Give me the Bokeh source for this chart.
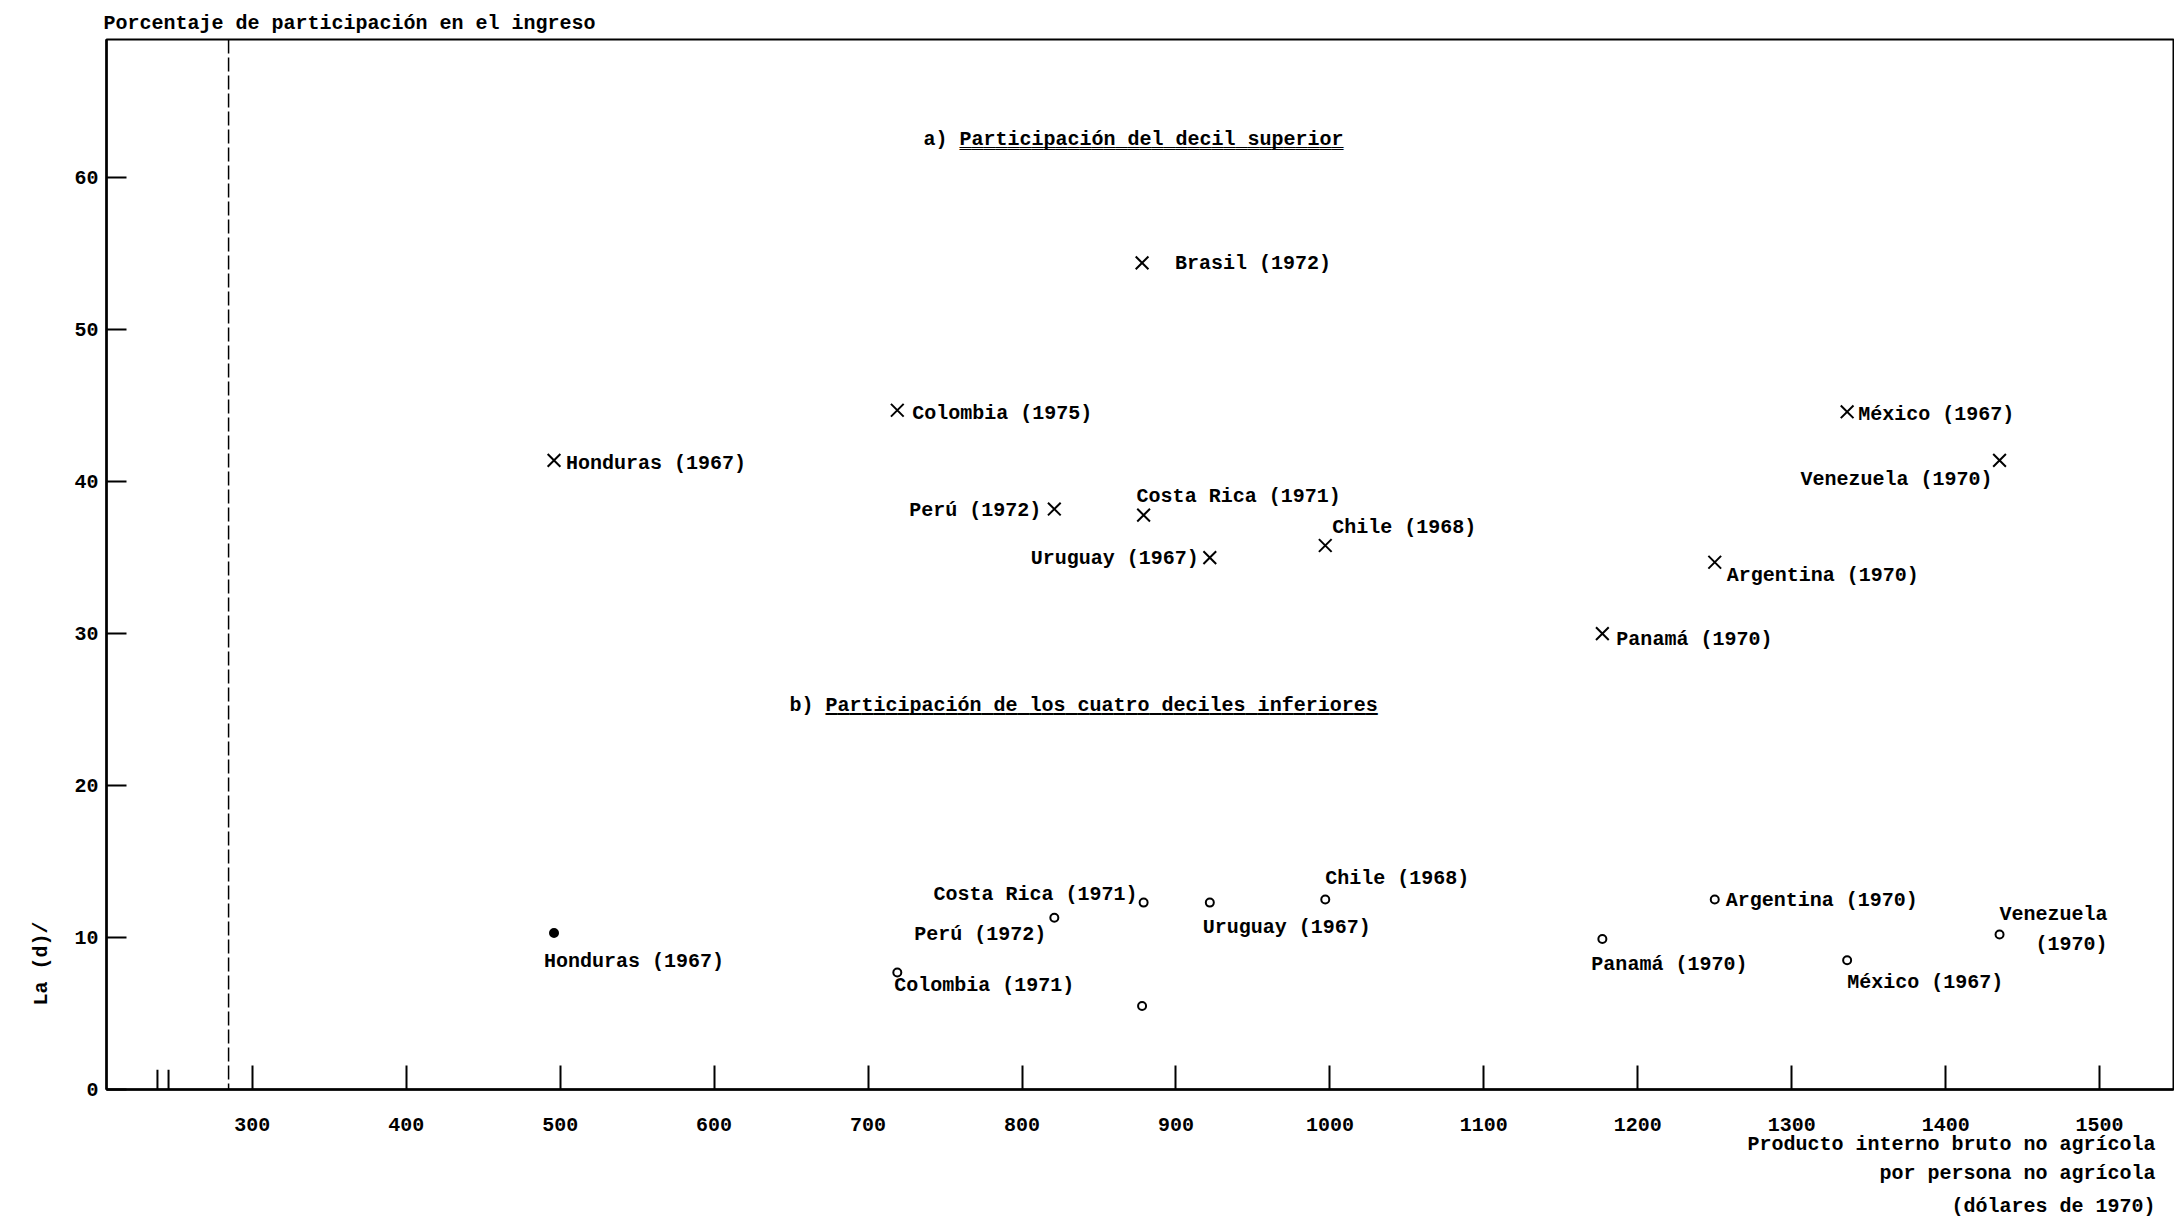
from bokeh.plotting import figure
from bokeh.models import ColumnDataSource, FixedTicker, Span, Title
from bokeh.core.properties import value
from bokeh.embed import file_html
from bokeh.resources import INLINE

# ---------------- data ----------------
countries = ["Honduras", "Colombia", "Perú", "Brasil", "Costa Rica", "Uruguay",
             "Chile", "Panamá", "Argentina", "México", "Venezuela"]
gdp_per_person = [496, 719, 821, 878, 879, 922, 997, 1177, 1250, 1336, 1435]
top_decile_share = [41.4, 44.7, 38.2, 54.4, 37.8, 35.0, 35.8, 30.0, 34.7, 44.6, 41.4]
top_years = ["1967", "1975", "1972", "1972", "1971", "1967", "1968", "1970", "1970", "1967", "1970"]
bottom_four_share = [10.3, 7.7, 11.3, 5.5, 12.3, 12.3, 12.5, 9.9, 12.5, 8.5, 10.2]
bottom_years = ["1967", "1971", "1972", "", "1971", "1967", "1968", "1970", "1970", "1967", "1970"]

x_ticks = [300, 400, 500, 600, 700, 800, 900, 1000, 1100, 1200, 1300, 1400, 1500]
y_ticks = [0, 10, 20, 30, 40, 50, 60]

title_top = "a) Participación del decil superior"
title_bottom = "b) Participación de los cuatro deciles inferiores"
y_title = "Porcentaje de participación en el ingreso"
y_side_label = "La (d)/"
x_label_lines = ["Producto interno bruto no agrícola", "por persona no agrícola", "(dólares de 1970)"]

# ---------------- label styling (pixel offsets) ----------------
top_dx = [12, 15, -13, 33, -7, -11, 7, 14, 12, 11, -7]
top_dy = [3, 3, 1, 1, -19, 1, -18, 6, 13, 3, 19]
top_align = ["left", "left", "right", "left", "left", "right", "left", "left", "left", "left", "right"]
bot_dx = [-10, -3, -8, 0, -6, -7, 0, -11, 11, 0, 108]
bot_dy = [29, 13, 17, 0, -8, 25, -21, 25, 1, 22, -5]
bot_align = ["left", "left", "right", "left", "right", "left", "left", "left", "left", "left", "right"]
x_label_standoffs = [-6, 15, 0]

FONT = "Liberation Mono"
FS = "20px"

p = figure(width=2174, height=1218, output_backend="svg", toolbar_location=None,
           x_range=(205.3, 1548), y_range=(0, 69.1))
p.min_border_left = 106
p.min_border_right = 1
p.min_border_top = 39
p.min_border_bottom = 129
p.background_fill_color = "white"
p.border_fill_color = "white"
p.outline_line_color = "black"
p.outline_line_width = 2
p.grid.visible = False

# top-left axis title
p.title.text = y_title
p.title.align = "left"
p.title.offset = -3
p.title.text_font = FONT
p.title.text_font_size = FS
p.title.text_font_style = "bold"
p.title.text_color = "black"
p.title.standoff = 10

for ax in (p.xaxis[0], p.yaxis[0]):
    ax.axis_line_color = "black"
    ax.axis_line_width = 2.5
    ax.major_tick_line_color = "black"
    ax.major_tick_line_width = 2
    ax.major_tick_out = 0
    ax.minor_tick_line_color = None
    ax.major_label_text_font = FONT
    ax.major_label_text_font_size = FS
    ax.major_label_text_font_style = "bold"
    ax.major_label_text_color = "black"

p.xaxis.ticker = FixedTicker(ticks=x_ticks)
p.yaxis.ticker = FixedTicker(ticks=y_ticks)
p.xaxis.major_tick_in = 24
p.yaxis.major_tick_in = 20
p.xaxis.major_label_standoff = 28
p.yaxis.major_label_standoff = 8

# rotated side label on the left
p.add_layout(Title(text=y_side_label, align="left", offset=84, standoff=37,
                   text_font=FONT, text_font_size=FS, text_font_style="bold",
                   text_color="black"), "left")

# x-axis title lines, bottom right
for line, so in zip(x_label_lines, x_label_standoffs):
    p.add_layout(Title(text=line, align="right", offset=18, standoff=so,
                       text_font=FONT, text_font_size=FS, text_font_style="bold",
                       text_color="black"), "below")

# vertical dashed reference line and axis break marks
p.add_layout(Span(location=284.6, dimension="height", line_color="black",
                  line_width=1.5, line_dash="14 4"))
axis_break = [238.4, 245.6]
p.segment(x0=axis_break, y0=[0, 0], x1=axis_break, y1=[1.3, 1.3],
          line_color="black", line_width=2)

# markers
p.scatter(gdp_per_person, top_decile_share, marker="x", size=18,
          line_width=2, line_color="black")
fills = ["black" if c == "Honduras" else "white" for c in countries]
p.scatter(gdp_per_person, bottom_four_share, marker="circle", size=8,
          line_width=2, line_color="black", fill_color=fills)

# point labels
def label_rows(shares, years, dxs, dys, aligns, split_venezuela):
    rows = []
    for c, x, y, yr, dx, dy, al in zip(countries, gdp_per_person, shares, years, dxs, dys, aligns):
        if not yr:
            continue
        txt = f"{c}\n({yr})" if (split_venezuela and c == "Venezuela") else f"{c} ({yr})"
        rows.append((x, y, txt, dx, dy, al))
    return rows

rows = label_rows(top_decile_share, top_years, top_dx, top_dy, top_align, False) + \
       label_rows(bottom_four_share, bottom_years, bot_dx, bot_dy, bot_align, True)

for al in ("left", "right"):
    sel = [r for r in rows if r[5] == al]
    src = ColumnDataSource(dict(x=[r[0] for r in sel], y=[r[1] for r in sel],
                                text=[r[2] for r in sel], dx=[r[3] for r in sel],
                                dy=[r[4] for r in sel]))
    p.text(x="x", y="y", text="text", x_offset="dx", y_offset="dy", source=src,
           text_align=al, text_baseline="middle", text_font=value(FONT),
           text_font_size=FS, text_font_style="bold", text_color="black",
           text_line_height=1.3)

# section titles with underline
for tx, ty, ttl in ((736, 62.5, title_top), (649, 25.3, title_bottom)):
    p.text(x=[tx], y=[ty], text=[ttl], text_align="left", text_baseline="middle",
           text_font=value(FONT), text_font_size=FS, text_font_style="bold",
           text_color="black")
    under = "_" * (len(ttl) - 3)
    for off in (1, 2.5):
        p.text(x=[tx], y=[ty], text=[under], x_offset=36, y_offset=off,
               text_align="left", text_baseline="middle",
               text_font=value(FONT), text_font_size=FS, text_font_style="bold",
               text_color="black")

open("out.html", "w").write(file_html(p, INLINE))
